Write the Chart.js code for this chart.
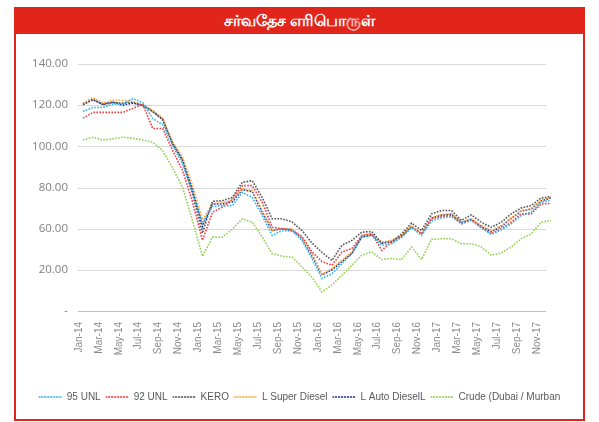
<!DOCTYPE html>
<html><head><meta charset="utf-8">
<script src="https://cdn.jsdelivr.net/npm/chart.js@4.4.1/dist/chart.umd.min.js"></script>
<style>
html,body{margin:0;padding:0;background:#fff;width:599px;height:422px;overflow:hidden;}
#banner{position:absolute;left:14px;top:7px;width:571px;height:27px;background:#E1251B;color:#fff;font:bold 16px "Noto Sans","DejaVu Sans",sans-serif;text-align:center;line-height:27px;}
#frame{position:absolute;left:14px;top:34px;width:567px;height:385px;border:2px solid #E1251B;border-top:none;}
#c{position:absolute;left:0;top:0;}
</style></head><body>
<div id="banner">சர்வதேச எரிபொருள்</div>
<div id="frame"></div>
<canvas id="c" width="599" height="422"></canvas>
<script>
const months = ["Jan-14","Feb-14","Mar-14","Apr-14","May-14","Jun-14","Jul-14","Aug-14","Sep-14","Oct-14","Nov-14","Dec-14",
"Jan-15","Feb-15","Mar-15","Apr-15","May-15","Jun-15","Jul-15","Aug-15","Sep-15","Oct-15","Nov-15","Dec-15",
"Jan-16","Feb-16","Mar-16","Apr-16","May-16","Jun-16","Jul-16","Aug-16","Sep-16","Oct-16","Nov-16","Dec-16",
"Jan-17","Feb-17","Mar-17","Apr-17","May-17","Jun-17","Jul-17","Aug-17","Sep-17","Oct-17","Nov-17","Dec-17"];
const yTickLabels = ["-","20.00","60.00","80.00","100.00","120.00","140.00"];

const unl95 = [117,118.9,118.9,120.5,120.5,123.2,121.3,113.5,110.5,100.4,91.5,77.8,
62.7,70.7,71.2,71.2,77.6,75.2,66.4,56.7,59.1,58.8,54.3,45.5,
35.8,38.1,43,47.9,55.9,56.7,51.9,52.7,55.9,60.7,56.7,63.7,
65.3,65.9,62.4,64,60.4,57.2,59.4,62.4,66.4,68,72.8,73.9];
const unl92 = [113.7,116.5,116.5,116.5,116.5,118.4,120.5,108.7,108.7,98,88.3,73,
54.3,68,70.4,74.4,80.9,80.9,72.8,60.7,60,59.1,56.2,48.7,
44,42.2,48.6,50.3,56.7,57.5,49.5,53.5,55.9,60.7,57.5,64.8,
65.9,66.4,62.4,64.3,60.7,57.5,59.9,63.1,67.2,67.2,72,72.3];
const kero = [120.2,122.9,120.2,121.3,121,121.3,119.7,116.9,113,101.2,93.1,77,
57.8,73.3,73.6,75.2,82.5,83.3,75.2,64.8,64.8,63.2,59.1,53,
48.5,44.6,51.9,54.3,58.3,58.6,53,53.5,57.5,62.7,59.1,67.2,
68.8,68.8,64,66.7,63.1,60.7,63.1,67.2,70,71.2,74.9,75.6];
const superDiesel = [121,123.7,121,122.4,122.4,121.9,120.5,117.4,113.8,102,94.7,81,
64.3,72,72.8,73.6,79.3,78.5,68.8,59.1,60,60,55.6,47.9,
37.9,40.6,44.6,48.6,56.7,57.5,53.5,54.3,56.7,61.5,57.5,65.6,
66.7,67.2,63.1,64.8,61.5,59.1,61.5,65.3,68.8,69.6,73.9,75.2];
const autoDiesel = [120.5,122.5,120.5,121.5,120,121,120,117,113,101.5,93.5,79,
61,72,72,73,79,78,68,59,60,59.5,55,47,
37.5,40,44,48,56,57,53,54,56.5,61,57.5,65,
66.5,67,63,64.5,61,58.5,61,65,68.5,69.5,73.5,75];
const crude = [103.1,104.4,103.1,103.6,104.4,103.9,103.1,102,97.9,89.5,80,64,
46.6,55.9,55.9,59.8,64.8,63.1,56,47.9,46.6,46.2,41.4,36.4,
29.3,32.6,37.4,42.2,47.1,48.7,45,45.5,45,51.1,45,54.8,
55.1,55.1,52.7,52.7,51.1,47.1,48.2,51.1,55.1,57.5,63.1,64];

const seriesNames = ["95 UNL","92 UNL","KERO","L Super Diesel","L Auto DieselL","Crude (Dubai / Murban"];
const seriesColors = ["#2DB4EC","#EE3A43","#555555","#FBA53C","#26349A","#92D050"];
const seriesData = [unl95, unl92, kero, superDiesel, autoDiesel, crude];

const datasets = seriesData.map((d,i)=>({
  label: seriesNames[i], data: d, borderColor: seriesColors[i], backgroundColor: 'rgba(0,0,0,0)',
  borderWidth: 1.6, borderDash: [1.6,1.4], pointRadius: 0, tension: 0, fill:false, yAxisID: 'y'
}));

const sans = '"Liberation Sans",Arial,sans-serif';

// horizontal gridlines spanning from the left edge to half a category before the last point
const gridPlugin = {
  id: 'hgrid',
  beforeDatasetsDraw(chart) {
    const { ctx, chartArea, scales } = chart;
    const x = scales.x, y = scales.y;
    const cat = x.getPixelForValue(1) - x.getPixelForValue(0);
    const left = chartArea.left, right = x.getPixelForValue(months.length - 1) - cat / 2;
    ctx.save();
    y.ticks.forEach((t, i) => {
      const py = Math.round(y.getPixelForValue(t.value)) + 0.5;
      ctx.strokeStyle = i === 0 ? '#bfbfbf' : '#d9d9d9';
      ctx.lineWidth = 1;
      ctx.beginPath(); ctx.moveTo(left, py); ctx.lineTo(right, py); ctx.stroke();
    });
    ctx.restore();
  }
};

new Chart(document.getElementById('c'), {
  type: 'line',
  data: { labels: months, datasets },
  plugins: [gridPlugin],
  options: {
    responsive: false, animation: false, devicePixelRatio: 1,
    layout: { padding: { left: 0, right: 0, top: 64, bottom: 10 } },
    plugins: {
      legend: { position: 'bottom', labels: { boxWidth: 23, boxHeight: 0, padding: 5, color: '#595959',
        font: { family: sans, size: 10 } } },
      tooltip: { enabled: false }
    },
    scales: {
      x: {
        offset: true,
        grid: { display: false, drawTicks: false },
        border: { display: false },
        ticks: { autoSkip: false, minRotation: 90, maxRotation: 90, padding: 11, labelOffset: -4,
          color: '#8a8a8a', font: { family: sans, size: 10 },
          callback: (v, i) => (i % 2 === 0 ? months[i] : null) },
        afterFit: s => { s.height = 76; }
      },
      y: {
        min: 20, max: 140,
        grid: { display: false, drawTicks: false },
        border: { display: false },
        ticks: { stepSize: 20, padding: 10, color: '#808080', font: { family: '"Open Sans",sans-serif', size: 11.5 },
          callback: (v, i) => yTickLabels[i] },
        afterFit: s => { s.width = 78; }
      },
      yR: {
        position: 'right', display: true,
        grid: { display: false, drawTicks: false },
        border: { display: false },
        ticks: { display: false },
        afterFit: s => { s.width = 43; }
      }
    }
  }
});
</script>
</body></html>
